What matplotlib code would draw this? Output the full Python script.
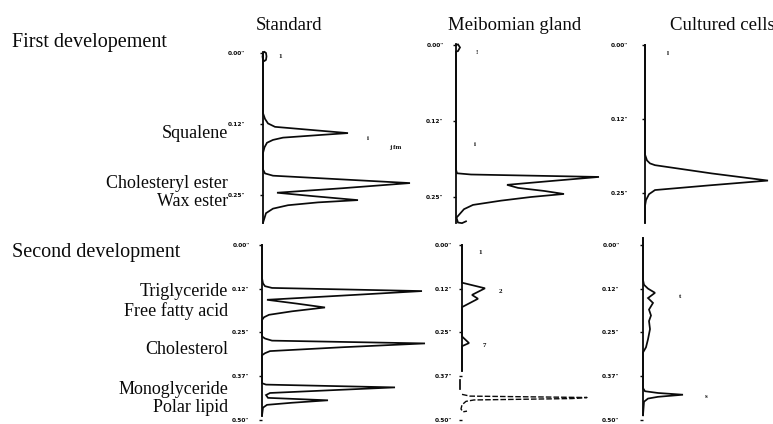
import matplotlib
matplotlib.use("Agg")
import matplotlib.pyplot as plt

# ---------------- data (position on plate in inches, detector deflection in arbitrary units)
row1_ticks = [0.0, 0.125, 0.25]
row1_ticklabels = ['0.00"', '0.12"', '0.25"']
row2_ticks = [0.0, 0.125, 0.25, 0.375, 0.5]
row2_ticklabels = ['0.00"', '0.12"', '0.25"', '0.37"', '0.50"']

column_titles = ["Standard", "Meibomian gland", "Cultured cells"]
row_titles = ["First developement", "Second development"]
row1_lipids = ["Squalene", "Cholesteryl ester", "Wax ester"]
row2_lipids = ["Triglyceride", "Free fatty acid", "Cholesterol", "Monoglyceride", "Polar lipid"]

std1_pos = [0.000, -0.002, 0.000, 0.006, 0.012, 0.014, 0.012, 0.006, 0.002, 0.106, 0.116, 0.124,
            0.130, 0.141, 0.144, 0.149, 0.153, 0.158, 0.166, 0.176, 0.205, 0.212, 0.216, 0.229,
            0.238, 0.246, 0.252, 0.259, 0.263, 0.268, 0.274, 0.282, 0.299]
std1_sig = [0, 1.5, 3, 3.5, 3, 1.5, 0, -0.5, 0, 0, 2, 5,
            12, 85, 60, 20, 10, 4, 1.5, 0, 0, 2, 10, 147,
            80, 14, 50, 95, 55, 25, 10, 3, 0]

meib1_pos = [0.000, -0.001, 0.004, 0.010, 0.011, 0.205, 0.211, 0.213, 0.217, 0.223, 0.230,
             0.235, 0.240, 0.245, 0.250, 0.256, 0.263, 0.270, 0.284, 0.292, 0.293, 0.290]
meib1_sig = [0, 2, 4, 2, 0, 0, 1, 15, 143, 100, 51,
             62, 88, 108, 75, 45, 17, 8, 0.5, 2, 6, 10]

cult1_pos = [0.000, 0.185, 0.195, 0.200, 0.203, 0.217, 0.229, 0.237, 0.245, 0.252, 0.262, 0.272, 0.300]
cult1_sig = [0, 0, 2, 5, 10, 67, 123, 65, 10, 4, 1, 0, 0]

std2_pos = [0.000, 0.095, 0.110, 0.118, 0.123, 0.132, 0.145, 0.157, 0.168, 0.179, 0.190, 0.200,
            0.207, 0.215, 0.262, 0.268, 0.274, 0.282, 0.293, 0.304, 0.310, 0.316, 0.396, 0.400,
            0.408, 0.416, 0.424, 0.430, 0.438, 0.445, 0.452, 0.458, 0.466, 0.489]
std2_sig = [0, 0, 1, 3, 10, 160, 80, 5, 35, 63, 30, 7,
            2, 0, 0, 3, 10, 163, 80, 8, 3, 0, 0, 4,
            133, 70, 8, 4, 6, 66, 30, 5, 1, 0]

meib2_pos = [0.000, 0.108, 0.124, 0.143, 0.154, 0.178, 0.262, 0.281, 0.290, 0.360]
meib2_sig = [0, 0, 23, 10, 16, 0, 0, 7, 0, 0]
meib2b_pos = [0.388, 0.412]
meib2b_sig = [-2, -2]
meib2c_pos = [0.428, 0.433, 0.437, 0.440, 0.444, 0.448, 0.458, 0.470, 0.478, 0.476]
meib2c_sig = [0, 8, 125, 110, 12, 4, 0, -1, 1, 5]

cult2_pos = [-0.020, 0.100, 0.114, 0.125, 0.137, 0.152, 0.166, 0.185, 0.202, 0.218, 0.241,
             0.270, 0.293, 0.308, 0.410, 0.419, 0.424, 0.429, 0.435, 0.440, 0.449, 0.488]
cult2_sig = [0, 0, 1, 5, 12, 5, 10, 6, 8, 6, 7,
             5, 3, 0, 0, 2, 15, 40, 15, 5, 1, 0]

# peak numbers printed by the scanner
std1_marks = [("1", 17, 0.007), ("i", 105, 0.150), ("j fm", 132, 0.167)]
meib1_marks = [("!", 21, 0.013), ("i", 19, 0.164)]
cult1_marks = [("l", 23, 0.014)]
std2_marks = []
meib2_marks = [("1", 18, 0.022), ("2", 38, 0.132), ("7", 22, 0.287)]
cult2_marks = [("t", 37, 0.148), ("s", 63, 0.435)]

# ---------------- figure
W, H = 773, 424
fig = plt.figure(figsize=(W / 100, H / 100), dpi=100)
plt.rcParams['font.family'] = ['Liberation Serif', 'DejaVu Serif']
INK = '#0a0a0a'


def panel(base_x, y0, k, ytop, ybot, xmax, ticks, labels, pad):
    left = base_x - 6
    right = base_x + xmax
    top = y0 + ytop * k
    bottom = y0 + ybot * k
    ax = fig.add_axes([left / W, 1 - bottom / H, (right - left) / W, (bottom - top) / H])
    ax.set_xlim(-6, xmax)
    ax.set_ylim(ybot, ytop)
    for s in ['top', 'right', 'bottom']:
        ax.spines[s].set_visible(False)
    ax.spines['left'].set_position(('data', 0))
    ax.spines['left'].set_linewidth(1.3)
    ax.spines['left'].set_color(INK)
    ax.set_xticks([])
    ax.set_yticks(ticks)
    ax.set_yticklabels(labels, fontsize=4.2, fontweight='bold', family='DejaVu Sans')
    ax.tick_params(axis='y', length=2, width=1, pad=pad, color=INK, labelcolor=INK)
    ax.patch.set_alpha(0)
    return ax


def trace(ax, pos, sig, **kw):
    opts = dict(color=INK, lw=1.25, solid_joinstyle='miter', clip_on=False)
    opts.update(kw)
    ax.plot(sig, pos, **opts)


def marks(ax, items):
    for t, x, y in items:
        ax.text(x, y, t, fontsize=5, fontweight='bold', ha='center', va='center', color=INK)


# row 1
ax = panel(263, 53, 568, -0.012, 0.30, 150, row1_ticks, row1_ticklabels, 11)
ax.spines['left'].set_bounds(-0.002, 0.299)
trace(ax, std1_pos, std1_sig); marks(ax, std1_marks)

ax = panel(456, 45, 608, -0.012, 0.30, 150, row1_ticks, row1_ticklabels, 7)
ax.spines['left'].set_bounds(-0.001, 0.293)
trace(ax, meib1_pos, meib1_sig); marks(ax, meib1_marks)

ax = panel(645, 45, 592, -0.012, 0.30, 127, row1_ticks, row1_ticklabels, 10)
ax.spines['left'].set_bounds(0.0, 0.300)
trace(ax, cult1_pos, cult1_sig); marks(ax, cult1_marks)

# row 2
ax = panel(262, 245, 349, -0.02, 0.50, 165, row2_ticks, row2_ticklabels, 7)
ax.spines['left'].set_bounds(0.0, 0.489)
trace(ax, std2_pos, std2_sig); marks(ax, std2_marks)

ax = panel(462, 245, 349, -0.02, 0.50, 150, row2_ticks, row2_ticklabels, 5)
ax.spines['left'].set_bounds(0.0, 0.360)
trace(ax, meib2_pos, meib2_sig)
trace(ax, meib2b_pos, meib2b_sig)
trace(ax, meib2c_pos, meib2c_sig, lw=1.0, linestyle=(0, (4, 1.5)))
marks(ax, meib2_marks)

ax = panel(643, 245, 349, -0.025, 0.50, 127, row2_ticks, row2_ticklabels, 15)
ax.spines['left'].set_bounds(-0.020, 0.488)
trace(ax, cult2_pos, cult2_sig); marks(ax, cult2_marks)

# ---------------- texts (pixel positions)
def ftext(x, y, s, size, ha='left', va='center'):
    fig.text(x / W, 1 - y / H, s, fontsize=size, ha=ha, va=va, color=INK)

ftext(289, 25, column_titles[0], 13.5, ha='center')
ftext(515, 25, column_titles[1], 13.5, ha='center')
ftext(722, 25, column_titles[2], 13.5, ha='center')
ftext(12, 42, row_titles[0], 14.5)
ftext(12, 252, row_titles[1], 14.5)

ftext(228, 134, row1_lipids[0], 13, ha='right')
ftext(228, 184, row1_lipids[1], 13, ha='right')
ftext(228, 201, row1_lipids[2], 13, ha='right')
ftext(228, 292, row2_lipids[0], 13, ha='right')
ftext(228, 311, row2_lipids[1], 13, ha='right')
ftext(228, 350, row2_lipids[2], 13, ha='right')
ftext(228, 389, row2_lipids[3], 13, ha='right')
ftext(228, 408, row2_lipids[4], 13, ha='right')

fig.savefig("out.png", dpi=100)
